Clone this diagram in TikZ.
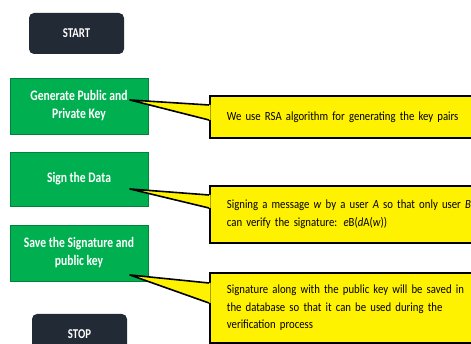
\documentclass[tikz,border=0pt]{standalone}
\usepackage{fontspec}
\setmainfont{Carlito}[FakeStretch=0.8]
\newfontfamily\notefamily{Carlito}[FakeStretch=0.86]
\usepackage{tikz}
\definecolor{stepgreen}{RGB}{0,176,80}
\definecolor{termnavy}{RGB}{34,42,53}
\newcommand\notefont{\notefamily\fontsize{12.5}{17.5}\selectfont}
\tikzset{
	term/.style={fill=termnavy, rounded corners=5pt, minimum width=95pt, minimum height=41pt, text=white, font=\bfseries\fontsize{13.5}{16}\selectfont},
	task/.style={draw=stepgreen!75!black, line width=0.4pt, fill=stepgreen, minimum width=138pt, text=white, align=center, font=\bfseries\fontsize{14.5}{18}\selectfont},
	note/.style={draw=black, line width=1.8pt, fill=yellow, anchor=north west, minimum width=300pt, text width=280pt, inner xsep=17pt, align=left, font=\notefont},
	wedge/.style={draw=black, line width=1.6pt, line join=round},
}

\begin{document}
\begin{tikzpicture}[x=1pt, y=1pt]
				\clip (0, 0) rectangle (471, 344);
				\node[term] (start)at(76.5, 310.5) {START};
				\node[task, minimum height=56pt] (keygen)at(79, 238) {Generate Public and\\Private Key};
				\node[task, minimum height=54pt] (sign)at(79, 165) {Sign the Data};
				\node[task, minimum height=56pt] (save)at(79, 91) {Save the Signature and\\public key};
				\node[term] (stop)at(79.5, 9.5) {STOP};
				\coordinate (tipA) at (130, 244);
				\coordinate (tipB) at (130, 155);
				\coordinate (tipC) at (130, 69);
				\node[note, minimum height=42pt] (noteA)at(209, 249) {We use RSA algorithm for generating the key pairs};
				\node[note, minimum height=57pt] (noteB)at(209, 159) {Signing a message \textit{w} by a user \textit{A} so that only user \textit{B}\\can verify the signature: \textit{e}B(\textit{d}A(\textit{w}))};
				\node[note, minimum height=70pt] (noteC)at(209, 72) {Signature along with the public key will be saved in\\the database so that it can be used during the\\verification process};
				\fill[yellow] ([yshift=-10pt]noteA.north west) -- (tipA) -- ([yshift=-25pt]noteA.north west) -- ([shift={(1.6pt,-25pt)}]noteA.north west) -- ([shift={(1.6pt,-10pt)}]noteA.north west) -- cycle;
				\draw[wedge] ([yshift=-10pt]noteA.north west) -- (tipA) -- ([yshift=-25pt]noteA.north west);
				\fill[yellow] ([yshift=-10pt]noteB.north west) -- (tipB) -- ([yshift=-23pt]noteB.north west) -- ([shift={(1.6pt,-23pt)}]noteB.north west) -- ([shift={(1.6pt,-10pt)}]noteB.north west) -- cycle;
				\draw[wedge] ([yshift=-10pt]noteB.north west) -- (tipB) -- ([yshift=-23pt]noteB.north west);
				\fill[yellow] ([yshift=-11pt]noteC.north west) -- (tipC) -- ([yshift=-31pt]noteC.north west) -- ([shift={(1.6pt,-31pt)}]noteC.north west) -- ([shift={(1.6pt,-11pt)}]noteC.north west) -- cycle;
				\draw[wedge] ([yshift=-11pt]noteC.north west) -- (tipC) -- ([yshift=-31pt]noteC.north west);
\end{tikzpicture}
\end{document}
